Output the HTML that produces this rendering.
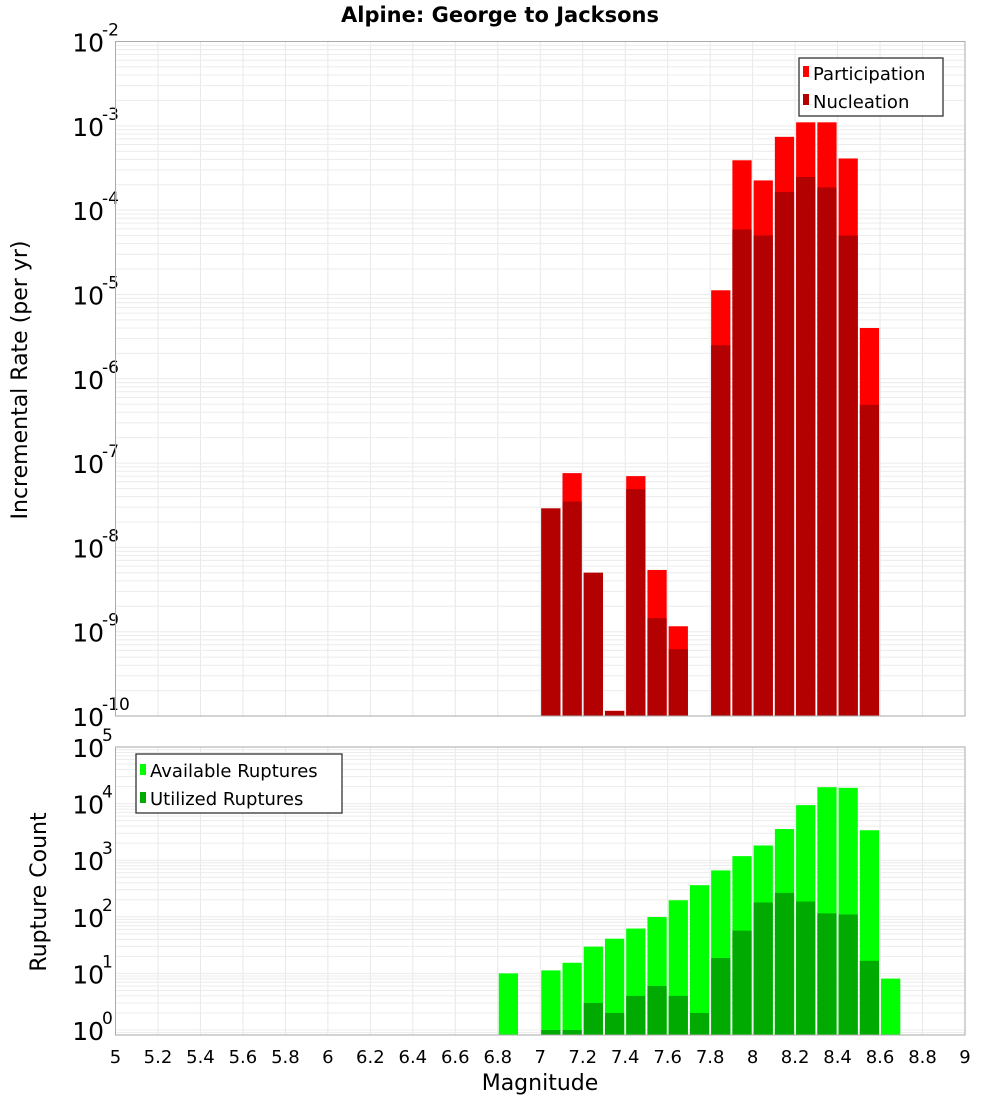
<!DOCTYPE html>
<html><head><meta charset="utf-8"><style>
body{margin:0;background:#fff;}
svg{display:block;font-family:"DejaVu Sans","Liberation Sans",sans-serif;}
</style></head><body>
<svg id="c" width="1000" height="1100" viewBox="0 0 1000 1100">
<text x="500" y="22" text-anchor="middle" font-size="21" font-weight="bold">Alpine: George to Jacksons</text>
<g id="grid"></g><g id="bars"></g><g id="axes"></g>
<text transform="translate(27,380) rotate(-90)" text-anchor="middle" font-size="22">Incremental Rate (per yr)</text>
<text transform="translate(46,892) rotate(-90)" text-anchor="middle" font-size="22">Rupture Count</text>
<text x="540" y="1090" text-anchor="middle" font-size="22">Magnitude</text>
<g>
<rect x="799" y="58" width="144" height="58" fill="#fff" stroke="#333" stroke-width="1.3"/>
<rect x="803" y="66" width="6" height="11" fill="#ff0000"/>
<text x="813" y="80" font-size="18">Participation</text>
<rect x="803" y="94" width="6" height="11" fill="#b30000"/>
<text x="813" y="108" font-size="18">Nucleation</text>
</g>
<g>
<rect x="136" y="754" width="206" height="59" fill="#fff" stroke="#333" stroke-width="1.3"/>
<rect x="140" y="764" width="6" height="11" fill="#00ff00"/>
<text x="150" y="777" font-size="18">Available Ruptures</text>
<rect x="140" y="792" width="6" height="11" fill="#00aa00"/>
<text x="150" y="805" font-size="18">Utilized Ruptures</text>
</g>
</svg>
<script>
const rateMags=[7.05,7.15,7.25,7.35,7.45,7.55,7.65,7.85,7.95,8.05,8.15,8.25,8.35,8.45,8.55];
const participation=[2.9e-8,7.6e-8,5.0e-9,1.15e-10,7.0e-8,5.4e-9,1.16e-9,1.12e-5,3.9e-4,2.25e-4,7.4e-4,1.1e-3,1.1e-3,4.1e-4,4.0e-6];
const nucleation=[2.9e-8,3.5e-8,5.0e-9,1.15e-10,4.9e-8,1.45e-9,6.2e-10,2.5e-6,5.9e-5,5.0e-5,1.64e-4,2.47e-4,1.86e-4,5.0e-5,4.9e-7];
const countMags=[6.85,7.05,7.15,7.25,7.35,7.45,7.55,7.65,7.75,7.85,7.95,8.05,8.15,8.25,8.35,8.45,8.55,8.65];
const available=[10,11.3,15.4,29.7,41,62,99,196,362,660,1180,1820,3550,9400,19500,19000,3380,8.1];
const utilized=[0,1,1,3,2,4,6,4,2,18.7,57,179,265,186,115,110,16.7,0];
const xTicks=["5","5.2","5.4","5.6","5.8","6","6.2","6.4","6.6","6.8","7","7.2","7.4","7.6","7.8","8","8.2","8.4","8.6","8.8","9"];
const topExps=[-2,-3,-4,-5,-6,-7,-8,-9,-10];
const botExps=[5,4,3,2,1,0];

const NS="http://www.w3.org/2000/svg";
const L=115.5,R=965;
const T1=41.5,B1=716,T2=747,B2=1035;
const x=m=>L+(m-5)/4*(R-L);
const yTop=v=>T1+(-2-Math.log10(v))*(B1-T1)/8;
const yBot=v=>1030-Math.log10(v)*56.6;
function mk(tag,at,parent){const e=document.createElementNS(NS,tag);for(const k in at)e.setAttribute(k,at[k]);document.getElementById(parent).appendChild(e);return e;}
// grid
for(let i=0;i<xTicks.length;i++){const xv=x(parseFloat(xTicks[i]));
 let g=mk('line',{x1:xv,x2:xv,y1:T1,y2:B1,stroke:'#e8e8e8'},'grid');
 g=mk('line',{x1:xv,x2:xv,y1:T2,y2:B2,stroke:'#e8e8e8'},'grid');
 const t=mk('text',{x:xv,y:1063,'text-anchor':'middle','font-size':18},'axes');t.textContent=xTicks[i];
 }
for(let e=-10;e<-2;e++)for(let k=1;k<10;k++){const yv=yTop(k*Math.pow(10,e));
 const g=mk('line',{x1:L,x2:R,y1:yv,y2:yv,stroke:'#ececec'},'grid');}
for(let e=-1;e<5;e++)for(let k=1;k<10;k++){const yv=yBot(k*Math.pow(10,e));if(yv<T2||yv>B2)continue;
 const g=mk('line',{x1:L,x2:R,y1:yv,y2:yv,stroke:'#ececec'},'grid');}
function ylab(yv,e){const t=mk('text',{x:104,y:yv+10,'text-anchor':'end','font-size':25},'axes');t.textContent='10';
 
 const s=mk('text',{x:102,y:yv-6,'font-size':17},'axes');s.textContent=String(e);
 }
topExps.forEach(e=>ylab(yTop(Math.pow(10,e)),e));
botExps.forEach(e=>ylab(yBot(Math.pow(10,e)),e));
// bars
const w=(R-L)/40;
function bar(m,v,yf,base,col,name){if(!(v>0))return;const y0=Math.max(yf(v),0);const r=mk('rect',{x:x(m)-w/2+1,y:y0,width:w-2,height:base-y0,fill:col},'bars');
 }
rateMags.forEach((m,i)=>{bar(m,participation[i],yTop,B1,'#ff0000','participation-bar');bar(m,nucleation[i],yTop,B1,'#b30000','nucleation-bar');});
countMags.forEach((m,i)=>{bar(m,available[i],yBot,B2,'#00ff00','available-bar');bar(m,utilized[i],yBot,B2,'#00aa00','utilized-bar');});
// frames
let f=mk('rect',{x:L,y:T1,width:R-L,height:B1-T1,fill:'none',stroke:'#aaa'},'axes');
f=mk('rect',{x:L,y:T2,width:R-L,height:B2-T2,fill:'none',stroke:'#aaa'},'axes');
</script>
</body></html>
